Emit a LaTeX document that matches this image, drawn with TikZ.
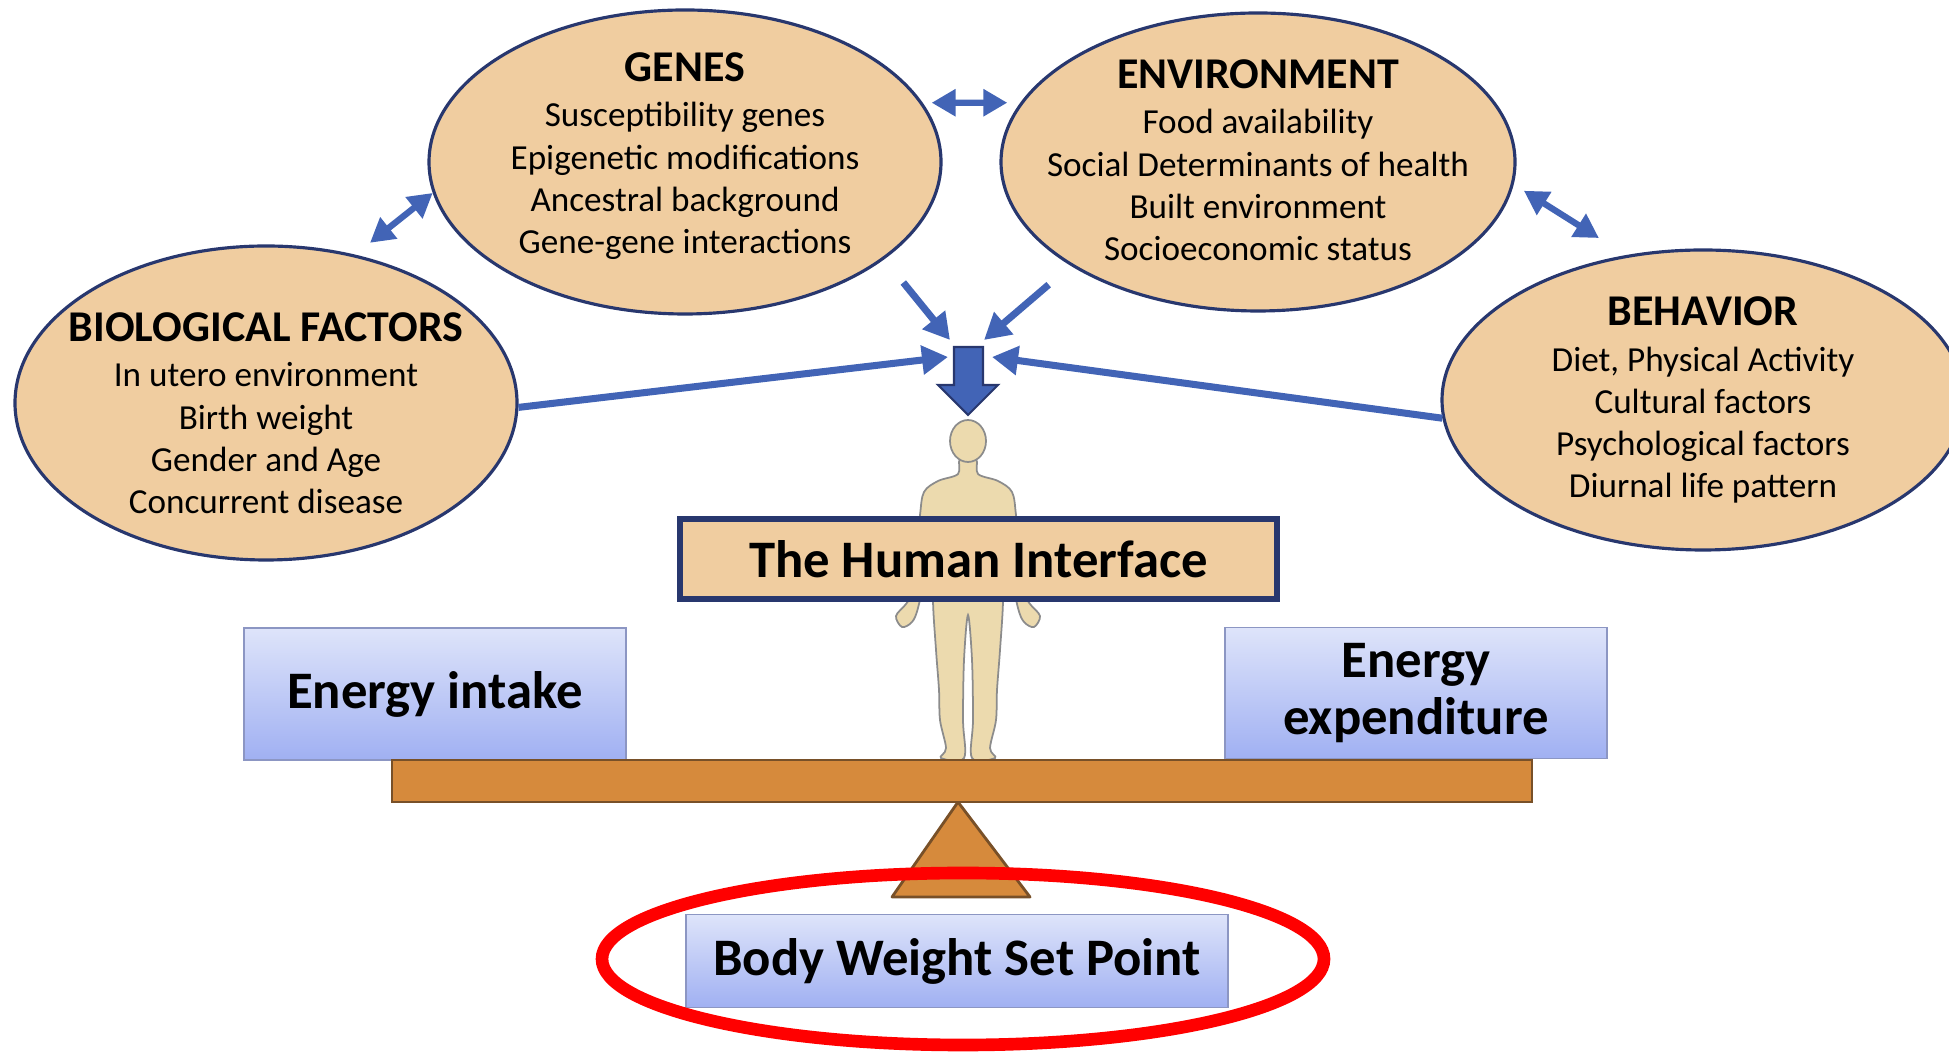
\documentclass[tikz,border=0pt]{standalone}
\usepackage{fontspec}
\setmainfont{Carlito}
\usetikzlibrary{arrows.meta,shapes.geometric}
\definecolor{sand}{RGB}{240,205,160}
\definecolor{navy}{RGB}{40,55,110}
\definecolor{arrowblue}{RGB}{66,100,182}
\definecolor{skin}{RGB}{236,218,174}
\definecolor{plank}{RGB}{214,138,60}
\definecolor{plankedge}{RGB}{120,80,40}
\definecolor{boxtop}{RGB}{222,228,250}
\definecolor{boxbot}{RGB}{160,176,242}
\definecolor{boxedge}{RGB}{140,150,195}
\newcommand\hdfont{\fontsize{12.5}{15}\selectfont\bfseries}

\begin{document}
\begin{tikzpicture}[
  blob/.style={ellipse,draw=navy,line width=0.9pt,fill=sand,inner sep=0pt},
  bt/.style={align=center,font=\fontsize{10}{12}\selectfont},
  arr/.style={-{Triangle[length=2.6mm,width=2.8mm]},line width=2pt,arrowblue},
  dbl/.style={{Triangle[length=2.4mm,width=2.6mm]}-{Triangle[length=2.4mm,width=2.6mm]},line width=1.8pt,arrowblue},
  ebox/.style={rectangle,draw=boxedge,top color=boxtop,bottom color=boxbot,align=center,inner sep=0pt,font=\fontsize{15}{16}\selectfont\bfseries}]
\useasboundingbox (0,0) rectangle (19.49,10.54);

\node[blob,minimum width=5.12cm,minimum height=3.04cm] (genes) at (6.85,8.92) {};
\node[bt] (genes-t) at ([yshift=0.06cm]genes)
  {{\hdfont GENES}\\[1pt]Susceptibility genes\\Epigenetic modifications\\Ancestral background\\Gene-gene interactions};
\node[blob,minimum width=5.14cm,minimum height=2.98cm] (env) at (12.58,8.92) {};
\node[bt] (env-t) at ([yshift=0.02cm]env)
  {{\hdfont ENVIRONMENT}\\[1pt]Food availability\\Social Determinants of health\\Built environment\\Socioeconomic status};
\node[blob,minimum width=5.02cm,minimum height=3.14cm] (bio) at (2.66,6.51) {};
\node[bt] (bio-t) at ([yshift=-0.10cm]bio)
  {{\hdfont BIOLOGICAL FACTORS}\\[1pt]In utero environment\\Birth weight\\Gender and Age\\Concurrent disease};
\node[blob,minimum width=5.22cm,minimum height=3.00cm] (beh) at (17.03,6.54) {};
\node[bt] (beh-t) at (beh)
  {{\hdfont BEHAVIOR}\\[1pt]Diet, Physical Activity\\Cultural factors\\Psychological factors\\Diurnal life pattern};

\draw[dbl,shorten <=0.9mm,shorten >=1.3mm] (genes.14) -- (env.166);
\draw[dbl,shorten <=1.9mm] (bio.59) -- (genes.187);
\draw[dbl,shorten <=1.2mm,shorten >=3.2mm] (env.-5) -- (beh.118);

% the four influences meet above the figure
\coordinate (tipG) at (9.50,7.14);
\coordinate (tipE) at (9.84,7.14);
\coordinate (tipB) at (9.48,6.97);
\coordinate (tipH) at (9.92,6.97);
\draw[arr,shorten <=3mm] (genes.-26.5) -- (tipG);
\draw[arr,shorten <=2.9mm] (env.-151.6) -- (tipE);
\draw[arr] (bio.-1) -- (tipB);
\draw[arr] (beh.184) -- (tipH);
\draw[fill=arrowblue,draw=navy,line width=0.6pt] (9.54,7.07) -- (9.83,7.07) -- (9.83,6.69) -- (9.98,6.69)
  -- (9.68,6.39) -- (9.38,6.69) -- (9.54,6.69) -- cycle;

\begin{scope}[shift={(9.68,10.54)},x=0.1mm,y=-0.1mm]
  \draw[fill=skin,draw=black!45,line width=0.5pt] plot[smooth cycle,tension=0.55] coordinates {
    (8,459) (10,474) (30,481) (44,492) (48,515) (52,555) (56,592) (62,604) (72,616) (66,627)
    (56,622) (50,608) (42,570) (34,528) (33,560) (35,600) (32,650) (29,690) (28,720) (22,748)
    (27,758) (4,758) (5,720) (4,660) (0,615) (-4,660) (-5,720) (-4,758) (-27,758) (-22,748)
    (-28,720) (-29,690) (-32,650) (-35,600) (-33,560) (-34,528) (-42,570) (-50,608) (-56,622)
    (-66,627) (-72,616) (-62,604) (-56,592) (-52,555) (-48,515) (-44,492) (-30,481) (-10,474) (-8,459)};
  \draw[fill=skin,draw=black!45,line width=0.5pt] (0,441) ellipse [x radius=18,y radius=21];
\end{scope}

\node[rectangle,draw=navy,line width=1.5pt,fill=sand,minimum width=5.97cm,minimum height=0.80cm,
  font=\fontsize{15}{18}\selectfont\bfseries] (hi) at (9.785,4.95) {The Human Interface};

\node[ebox,minimum width=3.82cm,minimum height=1.32cm] (intake) at (4.35,3.60) {Energy intake};
\node[ebox,minimum width=3.82cm,minimum height=1.31cm] (expend) at (14.16,3.61) {Energy\\expenditure};

\coordinate (pivot) at (9.62,2.52);
\draw[fill=plank,draw=plankedge,line width=0.8pt,line join=round] ([xshift=-0.04cm]pivot) -- ++(-0.66,-0.95) -- ++(1.38,0) -- cycle;
\node[fill=plank,draw=plankedge,line width=0.6pt,minimum width=11.40cm,minimum height=0.42cm,inner sep=0pt] (beam) at (9.62,2.73) {};

\node[ebox,minimum width=5.42cm,minimum height=0.93cm] (setpt) at (9.57,0.93) {Body Weight Set Point};
\node[ellipse,draw=red,line width=3.6pt,minimum width=7.22cm,minimum height=1.72cm] (ring) at (9.63,0.95) {};
\end{tikzpicture}
\end{document}
